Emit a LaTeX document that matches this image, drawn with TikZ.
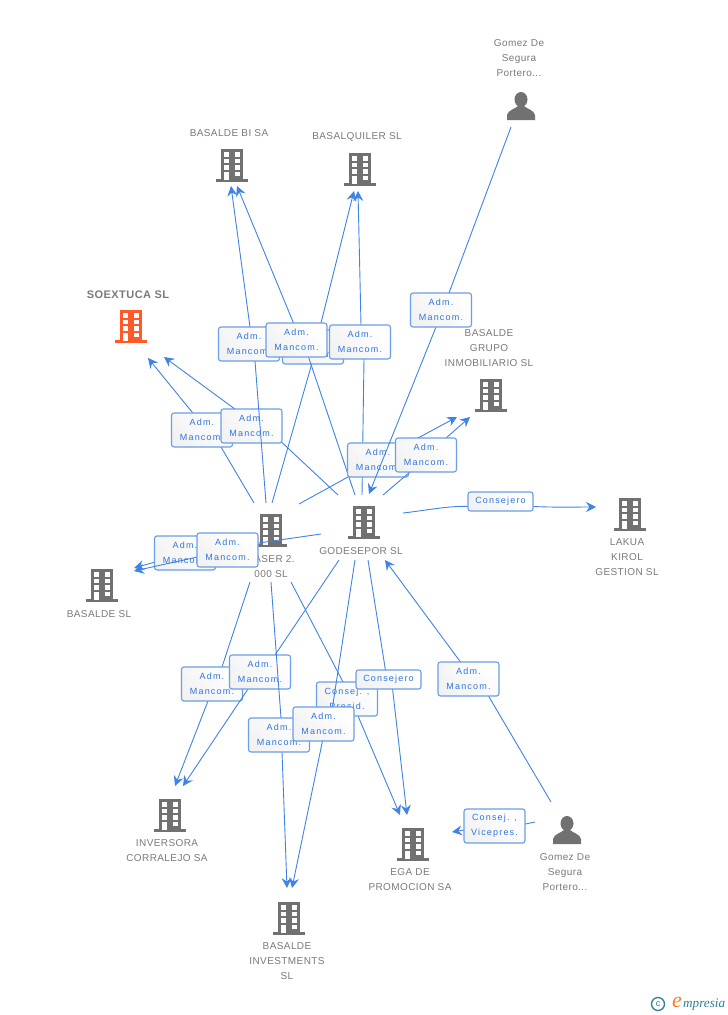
\documentclass[tikz,border=0pt]{standalone}
\usepackage{fontspec}
\setmainfont{Liberation Sans}
\newfontfamily\lblf[LetterSpace=13]{Liberation Sans}
\newfontfamily\namef[LetterSpace=4]{Liberation Sans}
\newfontfamily\logof{Liberation Serif}
\usetikzlibrary{arrows.meta,calc}
\definecolor{ln}{HTML}{3F83E4}
\definecolor{bd}{HTML}{6A9EE8}
\definecolor{tb}{HTML}{2F76DC}
\definecolor{ic}{HTML}{717171}
\definecolor{nm}{HTML}{7A7A7A}
\definecolor{org}{HTML}{FF5A28}
\definecolor{tealc}{HTML}{2F7F96}
\tikzset{
  x=1pt,y=-1pt,
  edge/.style={draw=ln,line width=0.9pt,-{Stealth[length=10pt,width=10pt,inset=3.5pt]}},
  lbl/.style={draw=bd,line width=1.1pt,rounded corners=2.5pt,
    left color=black!5,right color=white,shading angle=135,
    minimum width=61pt,minimum height=34pt,inner sep=0pt,align=center,
    font=\lblf\fontsize{9}{15}\selectfont,text=tb},
  lblone/.style={lbl,minimum width=65pt,minimum height=19pt},
  nmtx/.style={inner sep=0pt,align=center,text=nm,font=\namef\fontsize{10}{15}\selectfont},
  bld/.style={minimum width=33pt,minimum height=34pt,inner sep=0pt,
    path picture={
      \begin{scope}[shift={(path picture bounding box.center)}]
      \fill[#1] (-11,-16) rectangle (11,14);
      \fill[#1] (-16,14) rectangle (16,17);
      \foreach \r in {-13,-6.5,0}{
        \fill[white] (-8,\r) rectangle (-3,{\r+4.5});
        \fill[white] (2.5,\r) rectangle (7.5,{\r+4.5});}
      \fill[white] (-8,6.5) rectangle (-3,14.5);
      \fill[white] (2.5,6.5) rectangle (7.5,11);
      \end{scope}}},
  bld/.default=ic,
  per/.style={minimum width=30pt,minimum height=30pt,inner sep=0pt,
    path picture={
      \begin{scope}[shift={(path picture bounding box.center)}]
      \fill[ic] (0,-6.5) ellipse (6.5 and 7.5);
      \fill[ic] (-14,14) -- (-14,9) .. controls (-13,4) and (-6,3) .. (-3,0) -- (3,0) .. controls (6,3) and (13,4) .. (14,9) -- (14,14) -- cycle;
      \end{scope}}}
}
% from, from-offset, centre, in-offset, out-offset, to, to-offset, text, id
\newcommand\lnk[9]{%
  \coordinate (c#9) at (#3);
  \draw[edge] ($(#1)+(#2)$) -- ($(c#9)+(#4)$) -- ($(c#9)+(#5)$) -- ($(#6)+(#7)$);
  \node[lbl] (l#9) at (c#9) {#8};}
\newcommand\AM{Adm.\\Mancom.}
\begin{document}
\begin{tikzpicture}
\useasboundingbox (0,0) rectangle (728,1015);
\fill[white] (0,0) rectangle (728,1015);
% icons
\node[bld=org] (s) at (131,326) {};
\node[bld] (bi) at (232,165) {};
\node[bld] (ql) at (360,169) {};
\node[bld] (gr) at (491,395) {};
\node[bld] (lakua) at (630,514) {};
\node[bld] (g) at (364,522) {};
\node[bld] (b) at (271,530) {};
\node[bld] (bs) at (102,585) {};
\node[bld] (inv) at (170,815) {};
\node[bld] (ega) at (413,844) {};
\node[bld] (inw) at (289,918) {};
\node[per] (p1) at (521,106) {};
\node[per] (p2) at (567,830) {};
% names
\node[nmtx] (np1) at (519,58) {Gomez De\\Segura\\Portero...};
\node[nmtx] (nbi) at (229,133) {BASALDE BI SA};
\node[nmtx] (nql) at (357,137) {BASALQUILER SL};
\node[nmtx,font=\namef\bfseries\fontsize{11}{15}\selectfont] (ns) at (128,295) {SOEXTUCA SL};
\node[nmtx] (ngr) at (489,348) {BASALDE\\GRUPO\\INMOBILIARIO SL};
\node[nmtx] (nla) at (627,557) {LAKUA\\KIROL\\GESTION SL};
\node[nmtx] (ng) at (361,551) {GODESEPOR SL};
\node[nmtx] (nb) at (271,566.5) {BASER 2.\\000 SL};
\node[nmtx] (nbs) at (99,614) {BASALDE SL};
\node[nmtx] (ninv) at (167,850.5) {INVERSORA\\CORRALEJO SA};
\node[nmtx] (nega) at (410,879.5) {EGA DE\\PROMOCION SA};
\node[nmtx] (ninw) at (287,961) {BASALDE\\INVESTMENTS\\SL};
\node[nmtx] (np2) at (565,872) {Gomez De\\Segura\\Portero...};
% connectors and their labels, in stacking order
\lnk{b}{-17,-27}{202,430}{19,17}{-10,-18}{s}{17,32}{\AM}{a}
\lnk{g}{-26,-27}{251.5,426}{31,17}{-18,-18}{s}{33,31}{\AM}{b}
\lnk{b}{-5,-27}{249,344}{6,17}{1,-17}{bi}{-1,21}{\AM}{c}
\lnk{b}{1,-27}{313,347}{-1,16}{8,-24}{ql}{-6,22}{\AM}{d}
\lnk{g}{-9,-27}{296.5,340}{12,17}{-3,-17}{bi}{5,21}{\AM}{e}
\lnk{g}{-2,-27}{360,342}{4,17}{1,-17}{ql}{-2,22}{\AM}{f}
\lnk{b}{28,-26}{378,460}{-30,17}{40,-22}{gr}{-34,22}{\AM}{g}
\lnk{g}{19,-27}{426,455}{-16,17}{20,-17}{gr}{-21,22}{\AM}{h}
\lnk{p1}{-10,21}{441,310}{8,-17}{-5,17}{g}{5,-28}{\AM}{i}
\coordinate (cj) at (500.5,501.5);
\draw[edge] ($(g)+(39,-9)$) .. controls ($(g)+(65,-12)$) and ($(cj)+(-50,4)$) .. ($(cj)+(-32,5)$) -- ($(cj)+(33,5)$) .. controls ($(cj)+(55,6)$) and ($(lakua)+(-55,-7)$) .. ($(lakua)+(-34,-7)$);
\node[lblone] (lj) at (cj) {Consejero};
\lnk{b}{-31,20}{185,553}{31,-1}{-30,9}{bs}{32,-17}{\AM}{k}
\lnk{g}{-43,12}{227.5,550}{31,-7}{-30,7}{bs}{32,-14}{\AM}{l}
\lnk{b}{-21,52}{212,684}{10,-17}{-4,17}{inv}{5,-29}{\AM}{m}
\lnk{g}{-25,38}{260,672}{15,-17}{-12,17}{inv}{13,-29}{\AM}{n}
\lnk{b}{0,52}{279,735}{2,-17}{3,17}{inw}{-2,-30}{\AM}{o}
\lnk{b}{20,52}{347,699}{-4,-17}{11,17}{ega}{-13,-29}{Consej. ,\\Presid.}{p}
\lnk{g}{-9,38}{323.5,724}{9,-17}{-1,17}{inw}{3,-30}{\AM}{q}
\coordinate (cr) at (388.5,679.5);
\draw[edge] ($(g)+(4,38)$) -- ($(cr)+(-3,-9)$) -- ($(cr)+(4,9)$) -- ($(ega)+(-6,-29)$);
\node[lblone] (lr) at (cr) {Consejero};
\lnk{p2}{-16,-28}{468.5,679}{20,17}{-8,-17}{g}{21,38}{\AM}{s}
\lnk{p2}{-32,-8}{494.5,826}{31,-2}{-30,4}{ega}{39,-12}{Consej. ,\\Vicepres.}{t}
% logo
\node[circle,draw=tealc,line width=1.3pt,minimum size=13pt,inner sep=0pt,text=tealc,font=\fontsize{9}{9}\selectfont] (logoc) at (658,1004) {c};
\node[inner sep=0pt,text=org!80!yellow,font=\logof\itshape\fontsize{22}{22}\selectfont] (logoe) at (677,1002) {e};
\node[inner sep=0pt,anchor=west,text=tealc,font=\logof\itshape\fontsize{13.2}{13}\selectfont] (logot) at (683,1005) {mpresia};
\end{tikzpicture}
\end{document}
